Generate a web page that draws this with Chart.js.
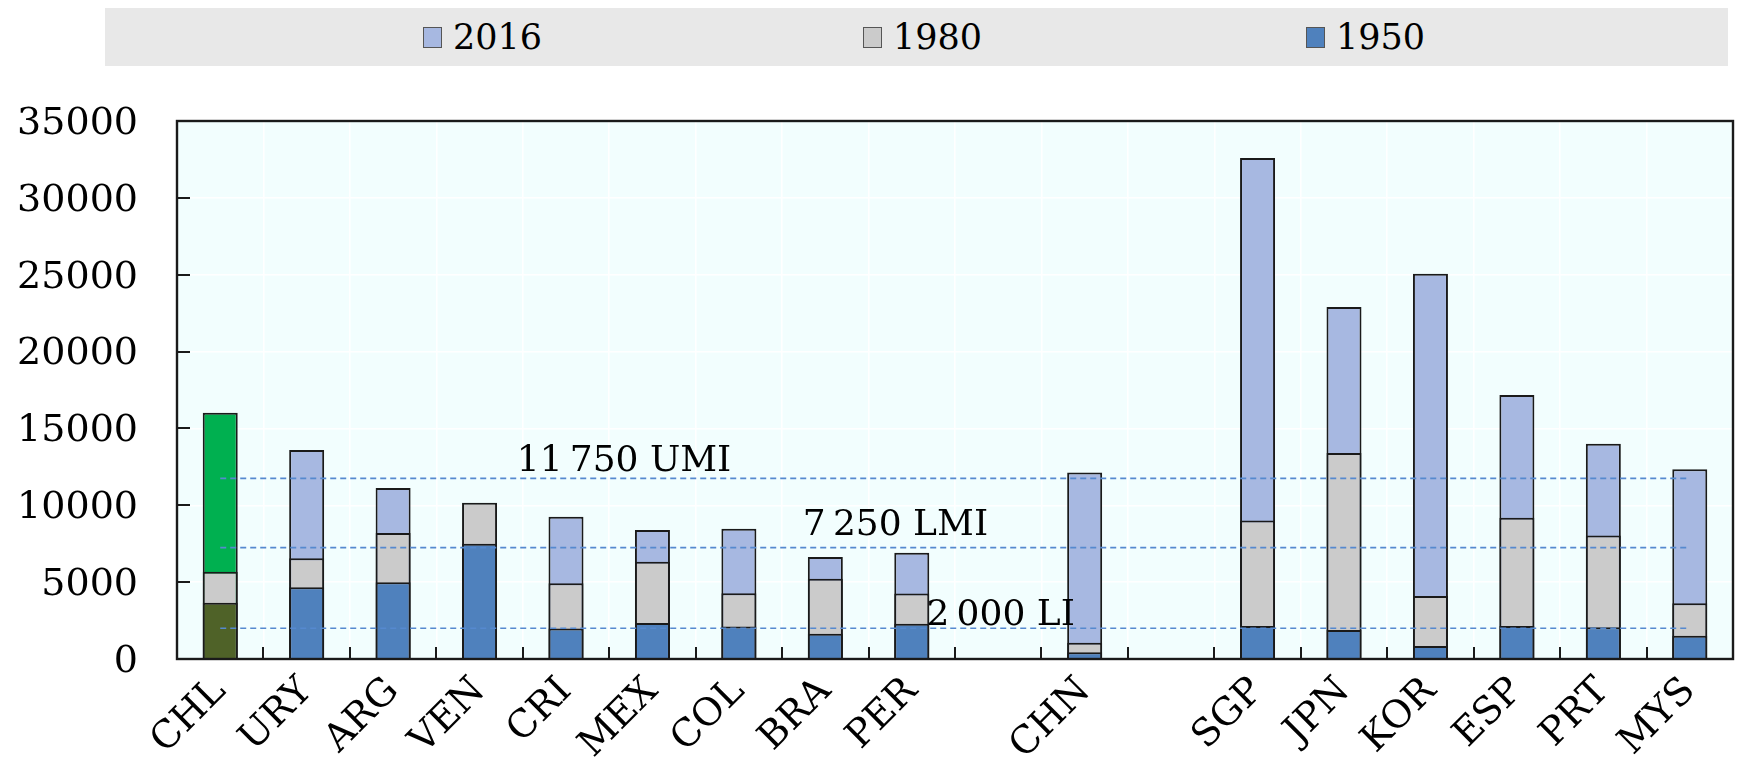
<!DOCTYPE html>
<html>
<head>
<meta charset="utf-8">
<script src="https://cdn.jsdelivr.net/npm/chart.js@4.4.1/dist/chart.umd.min.js"></script>
<style>
  html, body { margin: 0; padding: 0; background: #ffffff; }
  #wrap { position: relative; width: 1737px; height: 767px; }
  #legend { position: absolute; left: 105px; top: 8px; width: 1623px; height: 58px; background: #e8e8e8;
            font-family: 'DejaVu Serif', serif; font-size: 35px; color: #000; }
  .item { position: absolute; top: 0; height: 58px; display: flex; align-items: center; }
  .sw { width: 19px; height: 21px; border: 1px solid #555; box-sizing: border-box; margin-right: 11px; }
  canvas { position: absolute; left: 0; top: 0; }
</style>
</head>
<body>
<div id="wrap">
  <canvas id="c" width="1737" height="767"></canvas>
  <div id="legend"></div>
</div>
<script>
// ---- data ----
const categories = ['CHL','URY','ARG','VEN','CRI','MEX','COL','BRA','PER','','CHN','','SGP','JPN','KOR','ESP','PRT','MYS'];
const values2016 = [16020, 13600, 11120, null, 9260, 8390, 8480, 6630, 6910, null, 12130, null, 32600, 22900, 25070, 17170, 14010, 12350];
const values1980 = [5670, 6560, 8200, 10170, 4930, 6330, 4280, 5220, 4260, null, 1065, null, 9010, 13400, 4100, 9190, 8030, 3630];
const values1950 = [3660, 4660, 5000, 7500, 1980, 2350, 2120, 1650, 2300, null, 435, null, 2150, 1880, 850, 2150, 2060, 1520];
const seriesNames = ['2016', '1980', '1950'];
const thresholds = [11750, 7250, 2000];
const thresholdLabels = ['11\u202F750 UMI', '7\u202F250 LMI', '2\u202F000 LI'];
const yTicks = [0, 5000, 10000, 15000, 20000, 25000, 30000, 35000];

// ---- styles ----
const colors = { '2016': '#a7b8e1', '1980': '#cbcbcb', '1950': '#4f81bd' };
const highlight = { '2016': '#00b050', '1980': '#cbcbcb', '1950': '#4f6228' };
const highlightCategory = 'CHL';
const FONT = "'DejaVu Serif', serif";

function barColor(name) {
  return (ctx) => categories[ctx.dataIndex] === highlightCategory ? highlight[name] : colors[name];
}

const seriesValues = { '2016': values2016, '1980': values1980, '1950': values1950 };
const barDatasets = seriesNames.map((name, i) => ({
  type: 'bar',
  label: name,
  data: seriesValues[name],
  backgroundColor: barColor(name),
  borderColor: '#1a1a1a',
  borderWidth: 2,
  grouped: false,
  order: seriesNames.length - i,
  barPercentage: 0.405,
  categoryPercentage: 1.0
}));

const lineDatasets = thresholds.map((t, i) => ({
  type: 'line',
  label: thresholdLabels[i],
  data: [{ x: categories[0], y: t }, { x: categories[categories.length - 1], y: t }],
  borderColor: '#5689cf',
  borderWidth: 1.7,
  borderDash: [6, 4],
  pointRadius: 0,
  fill: false,
  order: 0
}));

// label placement (x in category-index units, pixel lift above the line)
const labelPlacement = [ { x: 3.43, lift: 7 }, { x: 6.74, lift: 13 }, { x: 8.17, lift: 3 } ];

const framePlugin = {
  id: 'frame',
  beforeDraw(chart) {
    const { ctx, chartArea: a } = chart;
    ctx.save();
    ctx.fillStyle = '#f2fefe';
    ctx.fillRect(a.left, a.top, a.right - a.left, a.bottom - a.top);
    ctx.restore();
  },
  afterDraw(chart) {
    const { ctx, chartArea: a, scales } = chart;
    ctx.save();
    // threshold labels
    ctx.font = '36px ' + FONT;
    ctx.fillStyle = '#000';
    ctx.textAlign = 'left';
    ctx.textBaseline = 'alphabetic';
    thresholds.forEach((t, i) => {
      const x = scales.x.getPixelForValue(labelPlacement[i].x);
      const y = scales.y.getPixelForValue(t) - labelPlacement[i].lift;
      ctx.fillText(thresholdLabels[i], x, y);
    });
    // inward tick marks
    ctx.strokeStyle = '#1a1a1a';
    ctx.lineWidth = 2;
    ctx.beginPath();
    yTicks.forEach(v => {
      const y = Math.round(scales.y.getPixelForValue(v));
      ctx.moveTo(a.left, y); ctx.lineTo(a.left + 13, y);
    });
    for (let i = 0; i < categories.length - 1; i++) {
      const x = Math.round(scales.x.getPixelForValue(i + 0.5));
      ctx.moveTo(x, a.bottom); ctx.lineTo(x, a.bottom - 12);
    }
    ctx.stroke();
    // frame
    ctx.lineWidth = 2.4;
    ctx.strokeRect(a.left, a.top, a.right - a.left, a.bottom - a.top);
    ctx.restore();
  }
};

Chart.defaults.font.family = FONT;
Chart.defaults.color = '#000';

new Chart(document.getElementById('c'), {
  data: { labels: categories, datasets: [...barDatasets, ...lineDatasets] },
  options: {
    responsive: false,
    animation: false,
    layout: { padding: { top: 121, right: 4, left: 0, bottom: 0 } },
    plugins: { legend: { display: false }, tooltip: { enabled: false } },
    scales: {
      x: {
        type: 'category',
        offset: true,
        grid: { color: '#ffffff', lineWidth: 1.5, offset: true, drawTicks: false },
        border: { display: false },
        ticks: { font: { size: 38, family: FONT }, color: '#000', maxRotation: 45, minRotation: 45, padding: 10, autoSkip: false },
        afterFit(scale) { scale.height = 108; }
      },
      y: {
        min: 0, max: 35000,
        afterBuildTicks(scale) { scale.ticks = yTicks.map(v => ({ value: v })); },
        grid: { color: '#ffffff', lineWidth: 1.5, drawTicks: false },
        border: { display: false },
        ticks: { font: { size: 38, family: FONT }, color: '#000', padding: 39, labelOffset: 3,
                 callback: (v) => String(v) },
        afterFit(scale) { scale.width = 177; }
      }
    }
  },
  plugins: [framePlugin]
});

// legend (HTML, real text)
const legendOffsets = [318, 758, 1201];
const legend = document.getElementById('legend');
seriesNames.forEach((name, i) => {
  const item = document.createElement('div');
  item.className = 'item';
  item.style.left = legendOffsets[i] + 'px';
  const sw = document.createElement('span');
  sw.className = 'sw';
  sw.style.background = colors[name];
  const tx = document.createElement('span');
  tx.textContent = name;
  item.appendChild(sw); item.appendChild(tx);
  legend.appendChild(item);
});
</script>
</body>
</html>
